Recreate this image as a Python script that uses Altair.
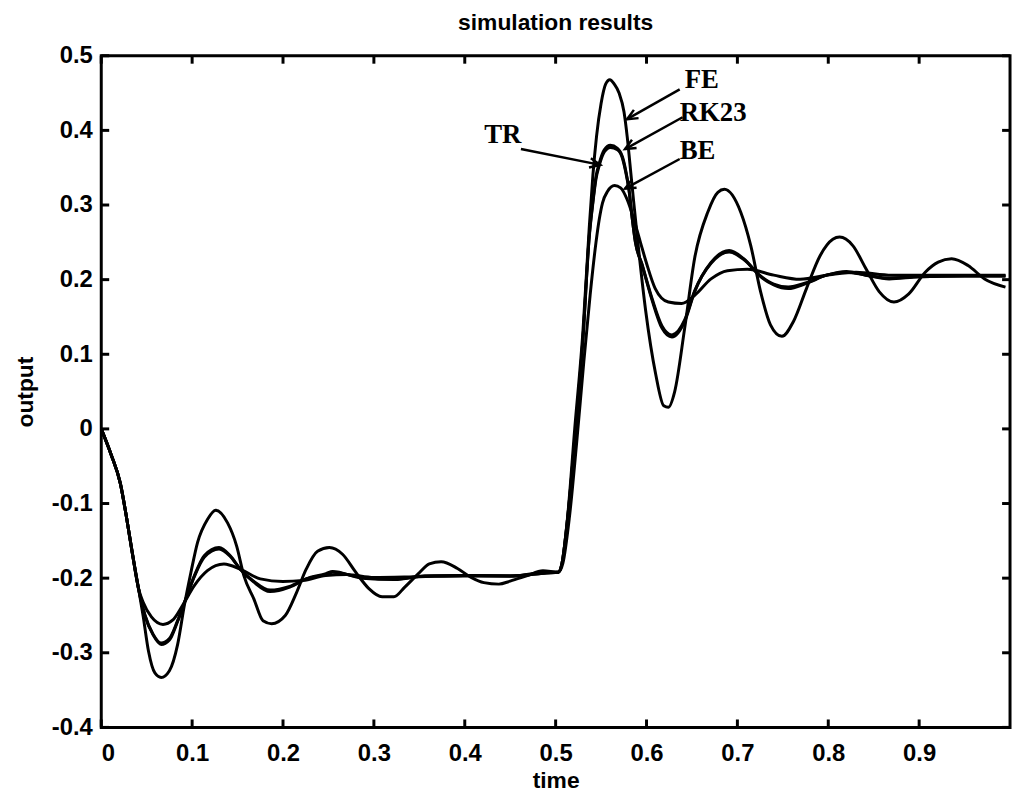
import altair as alt
import pandas as pd

# ---------------- data ----------------
fe_t = [0, 0.011, 0.021, 0.028, 0.034, 0.041, 0.046, 0.052, 0.059, 0.066, 0.075, 0.084, 0.0915,
        0.0987, 0.106, 0.117, 0.126, 0.139, 0.149, 0.157, 0.168, 0.178, 0.1875, 0.2025, 0.215,
        0.2255, 0.238, 0.251, 0.2655, 0.28, 0.2945, 0.309, 0.322, 0.334, 0.349, 0.361, 0.374,
        0.392, 0.407, 0.421, 0.4375, 0.45, 0.468, 0.486, 0.503, 0.507, 0.513, 0.521, 0.53, 0.537,
        0.541, 0.545, 0.55, 0.555, 0.5596, 0.5645, 0.5698, 0.5752, 0.5788, 0.5824, 0.586, 0.5897,
        0.599, 0.61, 0.619, 0.624, 0.631, 0.642, 0.653, 0.6676, 0.6785, 0.6857, 0.7038, 0.7147,
        0.7255, 0.7364, 0.749, 0.7617, 0.776, 0.791, 0.805, 0.8125, 0.827, 0.8415, 0.856, 0.8723,
        0.8886, 0.9067, 0.921, 0.9357, 0.9538, 0.972, 0.995]
fe_v = [0, -0.035, -0.073, -0.12, -0.165, -0.214, -0.25, -0.298, -0.327, -0.333, -0.324, -0.289,
        -0.236, -0.192, -0.152, -0.121, -0.109, -0.126, -0.157, -0.197, -0.228, -0.257, -0.261,
        -0.25, -0.219, -0.188, -0.164, -0.159, -0.168, -0.192, -0.214, -0.225, -0.225, -0.212,
        -0.194, -0.181, -0.178, -0.187, -0.199, -0.206, -0.208, -0.204, -0.197, -0.190, -0.192,
        -0.18, -0.12, 0.0, 0.13, 0.27, 0.34, 0.392, 0.436, 0.462, 0.468, 0.462, 0.45, 0.425, 0.391,
        0.347, 0.303, 0.259, 0.159, 0.074, 0.031, 0.029, 0.050, 0.135, 0.229, 0.291, 0.317, 0.321,
        0.29, 0.2456, 0.184, 0.1395, 0.124, 0.144, 0.188, 0.232, 0.254, 0.257, 0.2456, 0.2146,
        0.184, 0.170, 0.181, 0.210, 0.2235, 0.228, 0.219, 0.201, 0.19]

rk_t = [0, 0.011, 0.021, 0.028, 0.034, 0.041, 0.048, 0.057, 0.066, 0.075, 0.084, 0.0933, 0.1024,
        0.1133, 0.1296, 0.142, 0.153, 0.1676, 0.1857, 0.2074, 0.2255, 0.2473, 0.2546, 0.287, 0.323,
        0.356, 0.3995, 0.454, 0.49, 0.503, 0.507, 0.514, 0.522, 0.53, 0.537, 0.5408, 0.5444, 0.548,
        0.5535, 0.5602, 0.568, 0.5734, 0.577, 0.5807, 0.584, 0.5878, 0.595, 0.606, 0.617, 0.628,
        0.642, 0.653, 0.671, 0.691, 0.707, 0.7255, 0.74, 0.756, 0.776, 0.798, 0.82, 0.8415, 0.867,
        0.9, 0.95, 0.995]
rk_v = [0, -0.035, -0.073, -0.12, -0.165, -0.214, -0.25, -0.276, -0.289, -0.283, -0.258, -0.227,
        -0.197, -0.170, -0.159, -0.170, -0.188, -0.205, -0.218, -0.212, -0.201, -0.194, -0.191,
        -0.200, -0.2018, -0.197, -0.1965, -0.197, -0.192, -0.192, -0.18, -0.11, 0.0, 0.12, 0.259,
        0.303, 0.338, 0.356, 0.374, 0.380, 0.376, 0.365, 0.347, 0.321, 0.285, 0.25, 0.22, 0.173,
        0.135, 0.123, 0.144, 0.184, 0.223, 0.239, 0.228, 0.204, 0.193, 0.188, 0.195, 0.206, 0.211,
        0.206, 0.201, 0.204, 0.205, 0.205]

tr_t = [0, 0.011, 0.021, 0.028, 0.034, 0.041, 0.048, 0.057, 0.066, 0.075, 0.084, 0.0933, 0.1024,
        0.1133, 0.1296, 0.142, 0.153, 0.1676, 0.1857, 0.2074, 0.2255, 0.2473, 0.2546, 0.287, 0.323,
        0.356, 0.3995, 0.454, 0.49, 0.503, 0.507, 0.514, 0.522, 0.53, 0.537, 0.5408, 0.5444, 0.548,
        0.5535, 0.5602, 0.568, 0.5734, 0.577, 0.5807, 0.584, 0.5878, 0.595, 0.606, 0.617, 0.628,
        0.642, 0.653, 0.671, 0.691, 0.707, 0.7255, 0.74, 0.756, 0.776, 0.798, 0.82, 0.8415, 0.867,
        0.9, 0.95, 0.995]
tr_v = [0, -0.035, -0.073, -0.12, -0.165, -0.214, -0.249, -0.275, -0.287, -0.281, -0.257, -0.227,
        -0.198, -0.172, -0.161, -0.171, -0.188, -0.204, -0.216, -0.211, -0.201, -0.195, -0.192,
        -0.199, -0.201, -0.197, -0.1965, -0.197, -0.193, -0.192, -0.18, -0.11, 0.0, 0.12, 0.257,
        0.301, 0.335, 0.353, 0.371, 0.377, 0.374, 0.363, 0.345, 0.32, 0.285, 0.25, 0.221, 0.175,
        0.138, 0.126, 0.146, 0.185, 0.222, 0.237, 0.227, 0.205, 0.194, 0.19, 0.196, 0.206, 0.21,
        0.206, 0.202, 0.204, 0.205, 0.205]

be_t = [0, 0.011, 0.021, 0.028, 0.034, 0.041, 0.046, 0.0552, 0.0679, 0.0788, 0.0897, 0.1024,
        0.1168, 0.135, 0.153, 0.175, 0.2, 0.222, 0.247, 0.27, 0.3, 0.35, 0.4, 0.45, 0.49, 0.503,
        0.508, 0.515, 0.523, 0.531, 0.538, 0.5444, 0.548, 0.5516, 0.557, 0.5649, 0.5715, 0.5788,
        0.586, 0.5933, 0.6, 0.6096, 0.624, 0.6386, 0.653, 0.671, 0.689, 0.711, 0.74, 0.769, 0.8016,
        0.8306, 0.87, 0.93, 0.995]
be_v = [0, -0.035, -0.073, -0.12, -0.165, -0.214, -0.232, -0.252, -0.262, -0.256, -0.236, -0.21,
        -0.19, -0.181, -0.188, -0.201, -0.2045, -0.203, -0.1965, -0.195, -0.199, -0.198, -0.197,
        -0.197, -0.193, -0.192, -0.18, -0.12, -0.02, 0.09, 0.18, 0.25, 0.281, 0.303, 0.318, 0.326,
        0.323, 0.307, 0.281, 0.25, 0.222, 0.188, 0.170, 0.168, 0.179, 0.201, 0.212, 0.214, 0.206,
        0.2005, 0.2066, 0.210, 0.206, 0.206, 0.206]

series = [("FE", fe_t, fe_v), ("RK23", rk_t, rk_v), ("TR", tr_t, tr_v), ("BE", be_t, be_v)]

x_ticks = [0, 0.1, 0.2, 0.3, 0.4, 0.5, 0.6, 0.7, 0.8, 0.9]
y_ticks = [-0.4, -0.3, -0.2, -0.1, 0, 0.1, 0.2, 0.3, 0.4, 0.5]

labels = ["FE", "RK23", "BE", "TR"]
label_t = [0.642, 0.6365, 0.6365, 0.4214]
label_v = [0.467, 0.423, 0.372, 0.394]

arrow_t0 = [0.6365, 0.6397, 0.6365, 0.4618]
arrow_v0 = [0.455, 0.4176, 0.3617, 0.375]
arrow_t1 = [0.5786, 0.5764, 0.5764, 0.5491]
arrow_v1 = [0.415, 0.375, 0.322, 0.3538]
arrow_ang = [240.5, 241.1, 241.4, 101.3]

# ---------------- tables ----------------
rows = []
for name, ts, vs in series:
    for i, (t, v) in enumerate(zip(ts, vs)):
        rows.append({"series": name, "t": t, "v": v, "idx": i})
df = pd.DataFrame(rows)

W, H = 916, 677
xs = alt.Scale(domain=[0, 1], nice=False, zero=False)
ys = alt.Scale(domain=[-0.4, 0.5], nice=False, zero=False)

lab_expr = "'' + round(datum.value * 10) / 10"

x_axis = alt.Axis(values=x_ticks, labelExpr=lab_expr, grid=False, ticks=False, domain=False,
                  labelPadding=14, titlePadding=5)
y_axis = alt.Axis(values=y_ticks, labelExpr=lab_expr, grid=False, ticks=False, domain=False,
                  labelPadding=9, titlePadding=14)

lines = alt.Chart(df).mark_line(color="black", strokeWidth=3, interpolate="monotone", clip=True).encode(
    x=alt.X("t:Q", scale=xs, axis=x_axis, title="time"),
    y=alt.Y("v:Q", scale=ys, axis=y_axis, title="output"),
    detail="series:N",
    order="idx:Q",
)

xt = pd.DataFrame({"tv": x_ticks})
yt = pd.DataFrame({"tv": y_ticks})
tick_style = dict(color="black", strokeWidth=3)
bottom_ticks = alt.Chart(xt).mark_rule(**tick_style).encode(
    x=alt.X("tv:Q", scale=xs, title="time"), y=alt.value(H), y2=alt.value(H - 8))
top_ticks = alt.Chart(xt).mark_rule(**tick_style).encode(
    x=alt.X("tv:Q", scale=xs, title="time"), y=alt.value(0), y2=alt.value(8))
left_ticks = alt.Chart(yt).mark_rule(**tick_style).encode(
    y=alt.Y("tv:Q", scale=ys, title="output"), x=alt.value(0), x2=alt.value(8))
right_ticks = alt.Chart(yt).mark_rule(**tick_style).encode(
    y=alt.Y("tv:Q", scale=ys, title="output"), x=alt.value(W), x2=alt.value(W - 8))

arr = pd.DataFrame({"t0": arrow_t0, "v0": arrow_v0, "t1": arrow_t1, "v1": arrow_v1, "ang": arrow_ang})
arrow_lines = alt.Chart(arr).mark_rule(color="black", strokeWidth=2.5).encode(
    x=alt.X("t0:Q", scale=xs, title="time"), y=alt.Y("v0:Q", scale=ys, title="output"),
    x2="t1:Q", y2="v1:Q")
arrow_heads = alt.Chart(arr).mark_point(
    shape="M -0.45 1 L 0 0 L 0.45 1", filled=False, size=450, strokeWidth=2.5, color="black", opacity=1
).encode(
    x=alt.X("t1:Q", scale=xs, title="time"), y=alt.Y("v1:Q", scale=ys, title="output"),
    angle=alt.Angle("ang:Q", scale=None))

lab = pd.DataFrame({"label": labels, "t": label_t, "v": label_v})
texts = alt.Chart(lab).mark_text(
    align="left", baseline="middle", font="Liberation Serif", fontWeight="bold", fontSize=27,
    color="black").encode(
    x=alt.X("t:Q", scale=xs, title="time"), y=alt.Y("v:Q", scale=ys, title="output"), text="label:N")

chart = alt.layer(
    lines, bottom_ticks, top_ticks, left_ticks, right_ticks, arrow_lines, arrow_heads, texts
).properties(
    width=W, height=H,
    title=alt.TitleParams("simulation results", font="Liberation Sans", fontSize=23,
                          fontWeight="bold", color="black", anchor="middle", offset=9),
    autosize=alt.AutoSizeParams(type="none"),
    padding={"left": 94, "top": 45, "right": 3, "bottom": 66},
    background="white",
).configure_view(stroke="black", strokeWidth=3).configure_axis(
    labelFont="Liberation Sans", labelFontSize=24, labelFontWeight="bold", labelColor="black",
    titleFont="Liberation Sans", titleFontSize=23, titleFontWeight="bold", titleColor="black",
)

chart.save("out.html", embed_options={"renderer": "svg", "actions": False})
